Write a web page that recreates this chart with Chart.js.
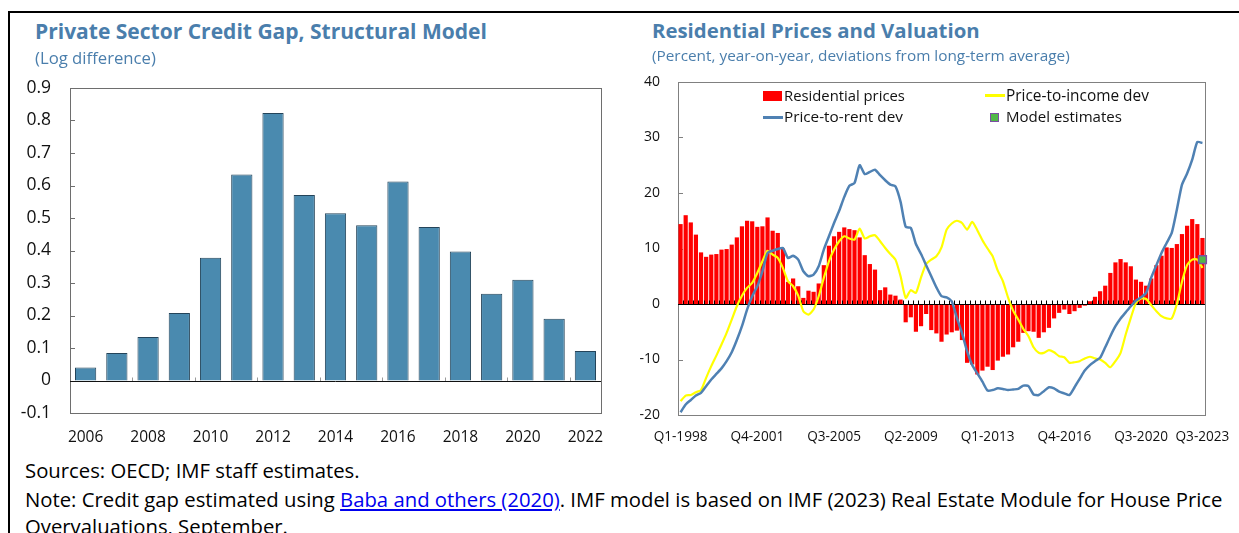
<!DOCTYPE html>
<html><head><meta charset="utf-8">
<script src="https://cdn.jsdelivr.net/npm/chart.js@4.4.0/dist/chart.umd.min.js"></script>
<style>
html,body{margin:0;padding:0;background:#fff;width:1239px;height:533px;overflow:hidden;font-family:"Open Sans",sans-serif;}
#frame{position:absolute;left:8px;top:11px;width:1300px;height:700px;border-top:2px solid #000;border-left:2px solid #000;box-sizing:border-box;}
.t{position:absolute;white-space:nowrap;line-height:1;z-index:5;}
.title{font-weight:700;color:#4a7eac;font-size:21px;}
.sub{color:#4a7eac;font-size:15px;}
.foot{color:#000;font-size:17px;}
.foot a{color:#0000ee;text-decoration:underline;}
.lg{color:#111;font-size:15px;}
.sw{position:absolute;z-index:5;}
canvas{position:absolute;}
</style></head><body>
<div id="frame"></div>

<div class="t title" id="t1">Private Sector Credit Gap, Structural Model</div>
<div class="t sub" id="s1">(Log difference)</div>
<div class="t title" id="t2">Residential Prices and Valuation</div>
<div class="t sub" id="s2">(Percent, year-on-year, deviations from long-term average)</div>

<canvas id="c1" width="620" height="397" style="left:0px;top:58px"></canvas>
<canvas id="c2" width="620" height="400" style="left:625px;top:55px"></canvas>

<div class="sw" style="left:763px;top:91px;width:19px;height:10px;background:#ff0000"></div>
<div class="t lg" id="lg1">Residential prices</div>
<div class="sw" style="left:985px;top:94px;width:20px;height:2.5px;background:#ffff00"></div>
<div class="t lg" id="lg2">Price-to-income dev</div>
<div class="sw" style="left:763px;top:116px;width:20px;height:2.5px;background:#4f81b3"></div>
<div class="t lg" id="lg3">Price-to-rent dev</div>
<div class="sw" style="left:990px;top:113px;width:7px;height:7px;background:#50b848;border:1px solid #7b4ea3"></div>
<div class="t lg" id="lg4">Model estimates</div>

<div class="t foot" id="f1">Sources: OECD; IMF staff estimates.</div>
<div class="t foot" id="f2">Note: Credit gap estimated using <a href="#">Baba and others (2020)</a>. IMF model is based on IMF (2023) Real Estate Module for House Price</div>
<div class="t foot" id="f3">Overvaluations, September.</div>

<script>
// ---------- Left chart data ----------
const years = ['2006','2007','2008','2009','2010','2011','2012','2013','2014','2015','2016','2017','2018','2019','2020','2021','2022'];
const creditGap = [0.040,0.085,0.134,0.208,0.378,0.634,0.823,0.571,0.515,0.478,0.612,0.472,0.397,0.267,0.310,0.190,0.091];

// ---------- Right chart data ----------
const quarters = [];
for (let yr = 1998; yr <= 2023; yr++) {
  for (let q = 1; q <= 4; q++) {
    if (yr === 2023 && q > 3) break;
    quarters.push('Q' + q + '-' + yr);
  }
}
const shownQuarterTicks = ['Q1-1998','Q4-2001','Q3-2005','Q2-2009','Q1-2013','Q4-2016','Q3-2020','Q3-2023'];

const residentialPrices = [
 14.4,16.0,14.7,12.5,9.3,8.5,8.9,9.0,9.8,9.9,
 10.7,12.0,14.0,15.0,14.9,13.9,14.0,15.6,13.2,12.8,
 10.0,4.0,4.6,3.2,1.1,2.4,2.2,3.7,7.0,10.5,
 12.2,13.0,13.8,13.5,13.3,12.0,8.8,7.2,6.2,2.5,
 3.0,1.7,1.5,0.8,-3.3,-2.4,-5.0,-4.0,-1.8,-4.7,
 -5.3,-6.8,-5.5,-5.1,-4.8,-6.5,-10.6,-10.9,-12.7,-12.0,
 -11.3,-11.9,-10.2,-9.5,-9.1,-7.8,-6.8,-5.2,-4.9,-5.0,
 -6.1,-5.1,-4.3,-2.6,-1.6,-1.0,-1.8,-1.3,-0.7,-0.3,
 0.5,1.3,2.3,3.3,5.6,7.5,8.1,7.5,6.8,4.4,
 4.0,3.3,4.6,7.0,8.7,10.2,10.1,10.8,12.6,14.1,
 15.3,14.4,11.9];

const priceToRent = [
 -19.5,-18.1,-17.3,-16.5,-16.0,-14.8,-13.6,-12.6,-11.6,-10.3,
 -8.7,-6.5,-4.0,-1.0,1.4,3.2,5.9,9.2,9.6,9.9,
 10.1,8.3,8.7,8.0,5.9,5.0,5.3,6.8,9.8,12.2,
 14.6,16.8,19.3,21.3,21.8,25.0,23.4,23.8,24.2,23.2,
 22.3,21.5,21.2,18.4,13.9,13.7,10.8,9.0,7.0,5.0,
 3.0,1.4,1.2,0.5,-2.5,-5.2,-8.5,-11.0,-12.5,-14.0,
 -15.6,-15.5,-15.2,-15.3,-15.5,-15.4,-15.3,-14.7,-14.8,-16.3,
 -16.4,-15.7,-15.0,-15.2,-15.8,-16.1,-16.4,-15.0,-13.5,-12.0,
 -11.0,-10.3,-9.7,-7.8,-5.8,-4.0,-2.6,-1.5,-0.4,0.6,
 1.2,2.0,4.8,7.0,9.2,11.0,12.8,17.0,21.5,23.5,
 26.0,29.2,29.0];

const priceToIncome = [
 -17.5,-16.5,-16.4,-15.9,-15.5,-13.3,-11.2,-9.3,-7.3,-5.2,
 -2.8,-0.4,1.5,2.9,3.8,5.6,7.7,9.6,8.9,8.3,
 6.5,4.1,3.2,1.5,-1.3,-1.9,-1.0,1.4,4.7,7.7,
 9.8,11.3,12.2,11.8,11.6,13.6,11.8,12.2,12.4,11.3,
 10.1,9.0,8.0,5.0,1.1,2.5,2.0,4.8,7.2,8.0,
 8.6,10.2,13.4,14.5,15.0,14.6,13.4,14.8,13.3,11.5,
 10.0,8.6,6.0,4.1,1.2,-1.2,-2.8,-4.5,-5.8,-7.8,
 -8.8,-8.8,-8.3,-8.7,-9.4,-9.6,-10.6,-10.5,-10.3,-9.8,
 -9.5,-9.8,-10.0,-10.6,-11.4,-10.3,-8.8,-5.5,-2.5,0.2,
 1.0,0.9,-0.2,-1.3,-2.2,-2.6,-2.6,0.0,4.0,7.0,
 8.0,8.0,6.5];

const modelEstimate = [{quarter:'Q3-2023', value:8.0}];

Chart.defaults.font.family = "'Open Sans', sans-serif";
Chart.defaults.color = '#000';

function vline(ctx, x, y1, y2){ ctx.beginPath(); ctx.moveTo(x, y1); ctx.lineTo(x, y2); ctx.stroke(); }
function hline(ctx, x1, x2, y){ ctx.beginPath(); ctx.moveTo(x1, y); ctx.lineTo(x2, y); ctx.stroke(); }
const snap = v => Math.round(v) + 0.5;

// ---------- Left chart decorations ----------
const leftDecor = {
  id: 'leftDecor',
  beforeDatasetsDraw(chart) {
    const {ctx, chartArea: a, scales: {y}} = chart;
    ctx.save();
    ctx.strokeStyle = '#6e6e6e'; ctx.lineWidth = 1;
    ctx.strokeRect(snap(a.left), snap(a.top), Math.round(a.right - a.left), Math.round(a.bottom - a.top));
    y.ticks.forEach(t => {
      const py = snap(y.getPixelForValue(t.value));
      hline(ctx, a.left, a.left + 5, py);
    });
    ctx.restore();
  },
  afterDatasetsDraw(chart) {
    const {ctx, chartArea: a, scales: {x, y}} = chart;
    ctx.save();
    const y0 = snap(y.getPixelForValue(0));
    const cw = x.getPixelForValue(1) - x.getPixelForValue(0);
    ctx.strokeStyle = '#999'; ctx.lineWidth = 1;
    for (let i = 2; i < years.length; i += 2) {
      vline(ctx, snap(x.getPixelForValue(i) - cw / 2), y0 - 4, y0);
    }
    ctx.strokeStyle = '#111';
    hline(ctx, a.left, a.right, y0);
    ctx.restore();
  }
};

new Chart(document.getElementById('c1'), {
  type: 'bar',
  data: {
    labels: years,
    datasets: [{
      label: 'Private sector credit gap',
      data: creditGap,
      backgroundColor: '#4a8aaf',
      borderColor: '#24445a',
      borderWidth: 1,
      barPercentage: 0.68,
      categoryPercentage: 1.0
    }]
  },
  options: {
    responsive: false, animation: false, devicePixelRatio: 1,
    layout: { padding: { left: 0, right: 19, top: 30, bottom: 0 } },
    plugins: { legend: { display: false }, tooltip: { enabled: false } },
    scales: {
      x: {
        grid: { display: false, drawTicks: false }, border: { display: false },
        ticks: { autoSkip: false, maxRotation: 0, minRotation: 0, padding: 15,
                 font: { size: 15.5 }, color: '#111',
                 callback: (v, i) => (i % 2 === 0 ? years[i] : '') },
        afterFit: s => { s.height = 42; }
      },
      y: {
        min: -0.1, max: 0.9,
        grid: { display: false, drawTicks: false }, border: { display: false },
        ticks: { stepSize: 0.1, padding: 19, font: { size: 17.5 }, color: '#111',
                 callback: v => String(Math.round(v * 10) / 10) },
        afterFit: s => { s.width = 70; }
      }
    }
  },
  plugins: [leftDecor]
});

// ---------- Right chart decorations ----------
const rightDecor = {
  id: 'rightDecor',
  beforeDatasetsDraw(chart) {
    const {ctx, chartArea: a, scales: {y}} = chart;
    ctx.save();
    ctx.strokeStyle = '#808080'; ctx.lineWidth = 1;
    ctx.strokeRect(snap(a.left), snap(a.top), Math.round(a.right - a.left), Math.round(a.bottom - a.top));
    y.ticks.forEach(t => {
      const py = snap(y.getPixelForValue(t.value));
      hline(ctx, a.left, a.left + 5, py);
    });
    ctx.restore();
  },
  afterDatasetDraw(chart, args) {
    if (args.meta.type !== 'bar') return;
    const {ctx, chartArea: a, scales: {x, y}} = chart;
    ctx.save();
    const y0 = snap(y.getPixelForValue(0));
    const cw = x.getPixelForValue(1) - x.getPixelForValue(0);
    ctx.strokeStyle = '#000'; ctx.lineWidth = 1;
    for (let i = 1; i < quarters.length; i++) {
      vline(ctx, snap(x.getPixelForValue(i) - cw / 2), y0 - 4, y0);
    }
    hline(ctx, a.left, a.right, y0);
    ctx.restore();
  }
};

new Chart(document.getElementById('c2'), {
  data: {
    labels: quarters,
    datasets: [
      { type: 'line', label: 'Model estimates',
        data: modelEstimate.map(d => ({ x: d.quarter, y: d.value })),
        showLine: false, pointStyle: 'rect', pointRadius: 5.5,
        backgroundColor: '#50b848', borderColor: '#7b4ea3', borderWidth: 1.5 },
      { type: 'line', label: 'Price-to-rent dev', data: priceToRent,
        borderColor: '#4f81b3', borderWidth: 2.5, pointRadius: 0, tension: 0.2, fill: false },
      { type: 'line', label: 'Price-to-income dev', data: priceToIncome,
        borderColor: '#ffff00', borderWidth: 2.2, pointRadius: 0, tension: 0.2, fill: false },
      { type: 'bar', label: 'Residential prices', data: residentialPrices,
        backgroundColor: '#ff0000', barPercentage: 0.82, categoryPercentage: 1.0 }
    ]
  },
  options: {
    responsive: false, animation: false, devicePixelRatio: 1,
    layout: { padding: { left: 0, right: 40, top: 27, bottom: 0 } },
    plugins: { legend: { display: false }, tooltip: { enabled: false } },
    scales: {
      x: {
        type: 'category', offset: true,
        grid: { display: false, drawTicks: false }, border: { display: false },
        ticks: { autoSkip: false, maxRotation: 0, minRotation: 0, padding: 14,
                 font: { size: 13.6 }, color: '#111',
                 callback: (v, i) => (shownQuarterTicks.includes(quarters[i]) ? quarters[i] : '') },
        afterFit: s => { s.height = 40; }
      },
      y: {
        min: -20, max: 40,
        grid: { display: false, drawTicks: false }, border: { display: false },
        ticks: { stepSize: 10, padding: 18, font: { size: 14 }, color: '#111' },
        afterFit: s => { s.width = 53; }
      }
    }
  },
  plugins: [rightDecor]
});

// ---------- Text placement ----------
function place(id, left, cy, width, fsOverride) {
  const el = document.getElementById(id);
  el.style.left = left + 'px';
  if (fsOverride) el.style.fontSize = fsOverride + 'px';
  else if (width) {
    const fs = parseFloat(getComputedStyle(el).fontSize);
    const w = el.getBoundingClientRect().width;
    el.style.fontSize = (fs * width / w) + 'px';
  }
  const fs2 = parseFloat(el.style.fontSize || getComputedStyle(el).fontSize);
  el.style.top = (cy - 0.55 * fs2) + 'px';
  return fs2;
}
place('t1', 35, 33, 452);
place('s1', 35, 59, 121);
place('t2', 652, 31, 328);
place('s2', 652, 56, 418);
place('lg1', 784, 96, 121);
place('lg2', 1006, 96, 143);
place('lg3', 784, 117, 119);
place('lg4', 1006, 117, 116);
const ffs = place('f2', 25, 500, 1198);
place('f1', 25, 471, null, ffs);
place('f3', 25, 527, null, ffs);
</script>
</body></html>
